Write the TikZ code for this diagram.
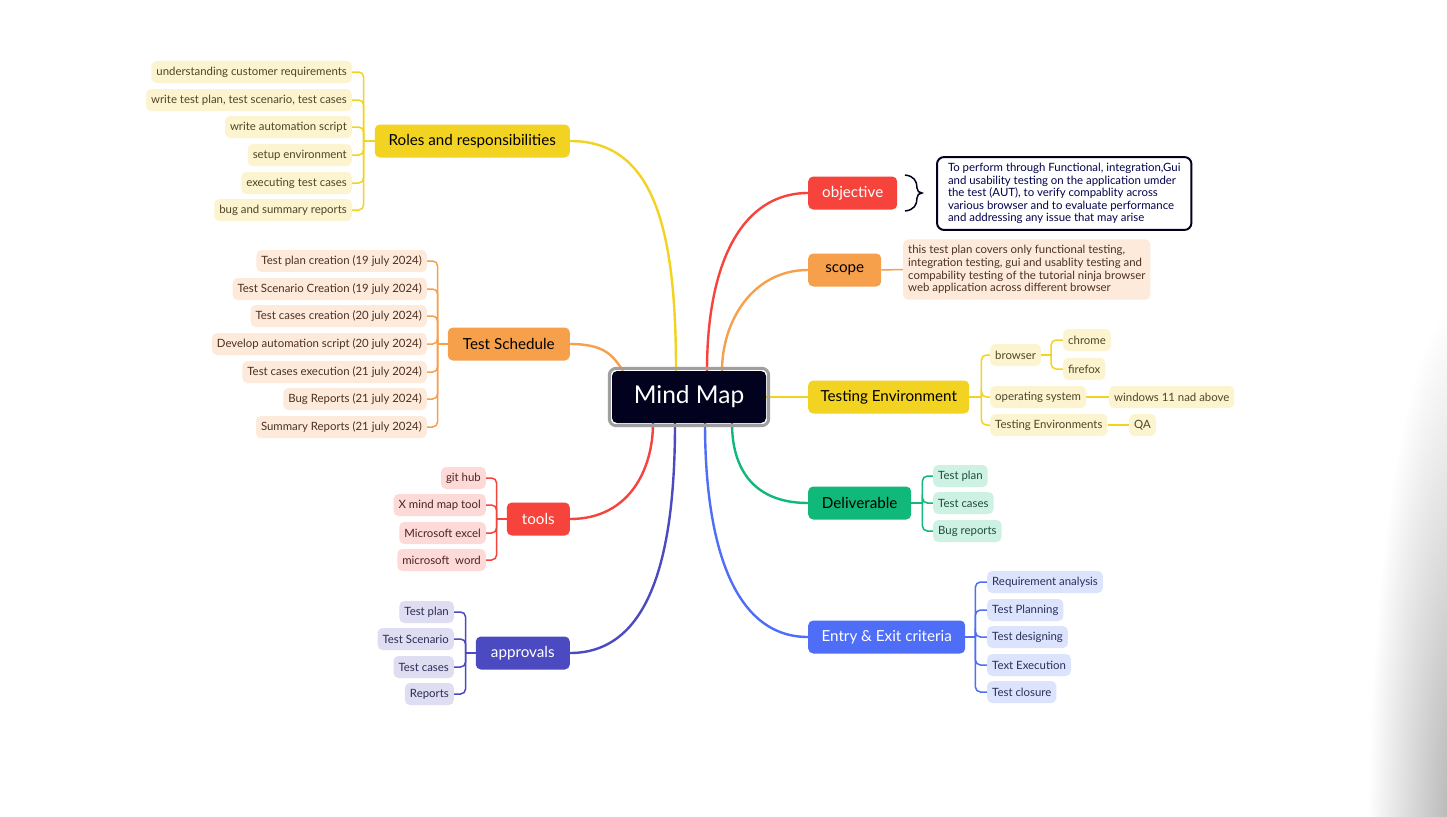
\documentclass[tikz,border=0pt]{standalone}
\usepackage{fontspec}
\setmainfont{Lato}
\usetikzlibrary{backgrounds,fit}
\definecolor{cMM}{HTML}{02021F}
\definecolor{cY}{HTML}{F3D321}
\definecolor{cYl}{HTML}{FCF3CF}
\definecolor{cYt}{HTML}{4F4527}
\definecolor{cO}{HTML}{F7A04B}
\definecolor{cOl}{HTML}{FDEADB}
\definecolor{cOt}{HTML}{4D3020}
\definecolor{cR}{HTML}{F6433B}
\definecolor{cRl}{HTML}{FDDAD7}
\definecolor{cRt}{HTML}{4D2220}
\definecolor{cI}{HTML}{4C4AC0}
\definecolor{cIl}{HTML}{DEDDF2}
\definecolor{cIt}{HTML}{2C2C55}
\definecolor{cG}{HTML}{10B87A}
\definecolor{cGl}{HTML}{CDF2E3}
\definecolor{cGt}{HTML}{1E4D3A}
\definecolor{cB}{HTML}{4F6EF7}
\definecolor{cBl}{HTML}{DCE3FD}
\definecolor{cBt}{HTML}{27305A}
\tikzset{
  mmnode/.style={fill=cMM, text=white, minimum width=154, minimum height=52, rounded corners=5, font=\fontsize{24.5}{27}\selectfont},
  topic/.style={rounded corners=5, minimum height=33, inner xsep=6, inner ysep=0, font=\fontsize{15.2}{17}\selectfont},
  leaf/.style={rounded corners=5, minimum height=22, inner xsep=5, inner ysep=0, font=\fontsize{11.4}{13}\selectfont},
  mainline/.style={line width=2.4},
  subline/.style={line width=1.5, rounded corners=5},
}
\begin{document}
\begin{tikzpicture}[x=1pt,y=-1pt]
\useasboundingbox (0,0) rectangle (1447,816);

% central
\node[mmnode] (mm) at (689,397) {Mind Map};
\node[fit=(mm), inner sep=2.5, draw=gray!75, line width=3, rounded corners=7] (mmframe) {};

% main topics left
\node[topic, fill=cY, anchor=east, minimum width=195] (roles) at (570,141) {Roles and responsibilities};
\node[topic, fill=cO, anchor=east, minimum width=122] (sched) at (570,344) {Test Schedule};
\node[topic, fill=cR, text=white, anchor=east, minimum width=63] (tools) at (570,519) {tools};
\node[topic, fill=cI, text=white, anchor=east, minimum width=94] (appr) at (570,653) {approvals};
% main topics right
\node[topic, fill=cR, text=white, anchor=west, minimum width=89] (obj) at (808,193) {objective};
\node[topic, fill=cO, anchor=west, minimum width=73] (scope) at (808,270) {scope};
\node[topic, fill=cY, anchor=west, minimum width=161] (env) at (808,397) {Testing Environment};
\node[topic, fill=cG, anchor=west, minimum width=103] (deliv) at (808,503) {Deliverable};
\node[topic, fill=cB, text=white, anchor=west, minimum width=157] (entry) at (808,637) {Entry \& Exit criteria};

% roles leaves
\begin{scope}[every node/.style={leaf, fill=cYl, text=cYt, anchor=east}]
\node (r1) at (352,72) {understanding customer requirements};
\node (r2) at (352,100) {write test plan, test scenario, test cases};
\node (r3) at (352,127) {write automation script};
\node (r4) at (352,155) {setup environment};
\node (r5) at (352,183) {executing test cases\ };
\node (r6) at (352,210) {bug and summary reports};
\end{scope}
% schedule leaves
\begin{scope}[every node/.style={leaf, fill=cOl, text=cOt, anchor=east}]
\node (s1) at (427,261) {Test plan creation (19 july 2024)};
\node (s2) at (427,289) {Test Scenario Creation (19 july 2024)};
\node (s3) at (427,316) {Test cases creation (20 july 2024)};
\node (s4) at (427,344) {Develop automation script (20 july 2024)};
\node (s5) at (427,372) {Test cases execution (21 july 2024)};
\node (s6) at (427,399) {Bug Reports (21 july 2024)};
\node (s7) at (427,427) {Summary Reports (21 july 2024)};
\end{scope}
% tools leaves
\begin{scope}[every node/.style={leaf, fill=cRl, text=cRt, anchor=east}]
\node (t1) at (486,478) {git hub};
\node (t2) at (486,505) {X mind map tool};
\node (t3) at (486,533) {Microsoft excel};
\node (t4) at (486,560) {microsoft\ \ word};
\end{scope}
% approvals leaves
\begin{scope}[every node/.style={leaf, fill=cIl, text=cIt, anchor=east}]
\node (a1) at (454,612) {Test plan};
\node (a2) at (454,639) {Test Scenario};
\node (a3) at (454,667) {Test cases};
\node (a4) at (454,694) {Reports};
\end{scope}

% objective text
\node[draw=cMM, line width=2, rounded corners=7, fill=white, text=cMM!80!blue, align=left,
      inner xsep=11, inner ysep=6, anchor=west, font=\fontsize{11.4}{12.6}\selectfont] (objtext) at (936,193.5)
  {To perform through Functional, integration,Gui\\and usability testing on the application umder\\the test (AUT), to verify compablity across\\various browser and to evaluate performance\\and addressing any issue that may arise};
% scope text
\node[fill=cOl, text=cOt, rounded corners=5, align=left, inner xsep=5, inner ysep=6, anchor=west,
      font=\fontsize{11.4}{12.6}\selectfont] (scopetext) at (903,269.5)
  {this test plan covers only functional testing,\\integration testing, gui and usablity testing and\\compability testing of the tutorial ninja browser\\web application across different browser};

% testing environment children
\begin{scope}[every node/.style={leaf, fill=cYl, text=cYt, anchor=west}]
\node (browser) at (990,355) {browser};
\node (os) at (990,397) {operating system};
\node (tenv) at (990,425) {Testing Environments};
\node (chrome) at (1063,340) {chrome};
\node (firefox) at (1063,369) {firefox};
\node (win) at (1109,397) {windows 11 nad above};
\node (qa) at (1129,425) {QA};
\end{scope}
% deliverable children
\begin{scope}[every node/.style={leaf, fill=cGl, text=cGt, anchor=west}]
\node (d1) at (933,476) {Test plan};
\node (d2) at (933,503) {Test cases};
\node (d3) at (933,531) {Bug reports};
\end{scope}
% entry children
\begin{scope}[every node/.style={leaf, fill=cBl, text=cBt, anchor=west}]
\node (e1) at (987,582) {Requirement analysis};
\node (e2) at (987,610) {Test Planning};
\node (e3) at (987,637) {Test designing};
\node (e4) at (987,665) {Text Execution};
\node (e5) at (987,692) {Test closure};
\end{scope}

% brace next to objective
\draw[cMM, line width=1.5] (905,175) .. controls (914,176) and (917,181) .. (917,188)
  .. controls (917,191) and (919,193) .. (922,193)
  .. controls (919,193) and (917,195) .. (917,198)
  .. controls (917,205) and (914,210) .. (905,211);

\begin{scope}[on background layer]
\fill[white] (0,0) rectangle (1447,816);
\begin{scope}
\clip (0,0) rectangle (1447,816);
\shade[inner color=gray!65, outer color=white, draw=none] (1462,860) ellipse [x radius=95, y radius=560];
\end{scope}
% main connectors
\draw[mainline, cY] (roles.east) .. controls +(85,0) and +(0,-140) .. ([xshift=-13]mm.north);
\draw[mainline, cO] (sched.east) .. controls +(35,0) and +(-10,-15) .. ([xshift=-66]mm.north);
\draw[mainline, cR] (tools.east) .. controls +(60,0) and +(0,45) .. ([xshift=-36]mm.south);
\draw[mainline, cI] (appr.east) .. controls +(85,0) and +(0,120) .. ([xshift=-14]mm.south);
\draw[mainline, cR] (obj.west) .. controls +(-65,0) and +(0,-110) .. ([xshift=18]mm.north);
\draw[mainline, cO] (scope.west) .. controls +(-55,0) and +(0,-50) .. ([xshift=33]mm.north);
\draw[mainline, cY] (env.west) -- (mm.east);
\draw[mainline, cG] (deliv.west) .. controls +(-55,0) and +(0,45) .. ([xshift=43]mm.south);
\draw[mainline, cB] (entry.west) .. controls +(-75,0) and +(0,120) .. ([xshift=16]mm.south);
% brackets left
\draw[subline, cY] (roles.west) -- ++(-11,0);
\foreach \n in {r1,r2,r3,r4,r5,r6} \draw[subline, cY] (\n.east) -| ([xshift=-11]roles.west);
\draw[subline, cO] (sched.west) -- ++(-10,0);
\foreach \n in {s1,s2,s3,s4,s5,s6,s7} \draw[subline, cO] (\n.east) -| ([xshift=-10]sched.west);
\draw[subline, cR] (tools.west) -- ++(-10,0);
\foreach \n in {t1,t2,t3,t4} \draw[subline, cR] (\n.east) -| ([xshift=-10]tools.west);
\draw[subline, cI] (appr.west) -- ++(-10,0);
\foreach \n in {a1,a2,a3,a4} \draw[subline, cI] (\n.east) -| ([xshift=-10]appr.west);
% brackets right
\draw[subline, cO] (scope.east) -- (scopetext.west);
\draw[subline, cY] (env.east) -- ++(12,0);
\foreach \n in {browser,os,tenv} \draw[subline, cY] (\n.west) -| ([xshift=12]env.east);
\draw[subline, cY] (browser.east) -- ++(10,0);
\foreach \n in {chrome,firefox} \draw[subline, cY] (\n.west) -| ([xshift=10]browser.east);
\draw[subline, cY] (os.east) -- (win.west);
\draw[subline, cY] (tenv.east) -- (qa.west);
\draw[subline, cG] (deliv.east) -- ++(11,0);
\foreach \n in {d1,d2,d3} \draw[subline, cG] (\n.west) -| ([xshift=11]deliv.east);
\draw[subline, cB] (entry.east) -- ++(10,0);
\foreach \n in {e1,e2,e3,e4,e5} \draw[subline, cB] (\n.west) -| ([xshift=10]entry.east);
\end{scope}
\end{tikzpicture}
\end{document}
